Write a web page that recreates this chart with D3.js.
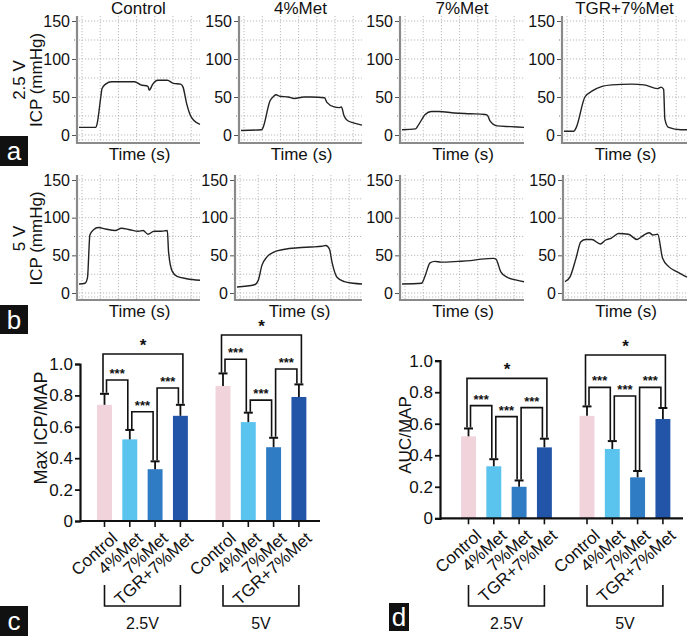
<!DOCTYPE html>
<html><head><meta charset="utf-8">
<script src="https://cdn.jsdelivr.net/npm/d3@7"></script>
<style>
body{margin:0;background:#fff;}
svg text{font-family:"Liberation Sans",Arial,sans-serif;fill:#111;}
</style></head>
<body>
<svg id="fig" width="688" height="636"></svg>
<script>
// ---------- DATA ----------
const traceTitles = ["Control", "4%Met", "7%Met", "TGR+7%Met"];
const rowLabels = ["2.5 V", "5 V"];
const icpTicks = [0, 50, 100, 150];
// traces: [time %, ICP mmHg]
const trace25Control = [[0,10],[14,10],[15,15],[18,50],[19,61],[22,67],[27,70],[35,70],[46,70],[51,66],[57,64],[58,59],[61,67],[65,72],[73,72],[78,68],[84,67],[86,63],[89,41],[92,26],[95,19],[100,14]];
const trace25Met4 = [[0,6],[17,7],[18,9],[24,45],[27,51],[29,53],[32,51],[39,50],[44,48],[52,50],[58,50],[69,49],[71,43],[77,37],[81,36],[83,37],[85,26],[88,19],[93,16],[100,13]];
const trace25Met7 = [[0,7],[11,8],[13,12],[19,27],[24,31],[30,31],[43,29],[56,28],[68,27],[70,26],[72,19],[78,12],[89,11],[100,10]];
const trace25TGR = [[0,5],[8,5],[10,10],[17,50],[23,58],[31,64],[39,66],[55,67],[65,66],[76,61],[79,63],[81,60],[82,21],[85,10],[95,7],[100,7]];
const trace5Control = [[0,12],[5,13],[7,20],[9,77],[12,84],[16,87],[22,85],[30,83],[35,86],[42,84],[49,82],[53,83],[57,78],[62,82],[68,82],[73,83],[74,55],[77,29],[81,22],[89,19],[100,17]];
const trace5Met4 = [[0,8],[14,11],[17,17],[20,37],[24,48],[29,54],[38,58],[49,60],[59,61],[68,62],[71,63],[74,58],[76,41],[80,21],[86,15],[93,13],[100,12]];
const trace5Met7 = [[0,12],[16,13],[19,23],[23,40],[27,42],[32,41],[46,42],[56,43],[65,45],[75,46],[77,45],[81,28],[86,21],[94,17],[100,15]];
const trace5TGR = [[0,15],[4,21],[9,46],[13,68],[17,71],[22,71],[29,65],[33,70],[38,73],[44,79],[52,78],[59,71],[62,74],[69,80],[72,77],[76,78],[80,46],[85,35],[92,28],[100,21]];

const groups = ["2.5V", "5V"];
const categories = ["Control", "4%Met", "7%Met", "TGR+7%Met"];
const barColors = ["#f1d3dc", "#5ac3ee", "#2f7cc4", "#2255a8"];
const ratioTicks = [0, 0.2, 0.4, 0.6, 0.8, 1.0];
const maxIcpMean = [[0.74, 0.52, 0.33, 0.67], [0.86, 0.63, 0.47, 0.79]];
const maxIcpSD   = [[0.07, 0.06, 0.05, 0.07], [0.08, 0.06, 0.06, 0.08]];
const aucMean = [[0.52, 0.33, 0.20, 0.45], [0.65, 0.44, 0.26, 0.63]];
const aucSD   = [[0.05, 0.045, 0.04, 0.055], [0.06, 0.05, 0.04, 0.07]];
// significance brackets: [from idx, to idx, height, label]
const maxIcpSig = [
  [[0,3,1.064,"*"],[0,1,0.898,"***"],[1,2,0.696,"***"],[2,3,0.847,"***"]],
  [[0,3,1.185,"*"],[0,1,1.03,"***"],[1,2,0.77,"***"],[2,3,0.968,"***"]]
];
const aucSig = [
  [[0,3,0.888,"*"],[0,1,0.715,"***"],[1,2,0.645,"***"],[2,3,0.702,"***"]],
  [[0,3,1.036,"*"],[0,1,0.831,"***"],[1,2,0.776,"***"],[2,3,0.831,"***"]]
];

// ---------- DRAW ----------
const svg = d3.select("#fig");
const font = '"Liberation Sans",Arial,sans-serif';

const traces = [[trace25Control, trace25Met4, trace25Met7, trace25TGR],[trace5Control, trace5Met4, trace5Met7, trace5TGR]];
const rowGeom = [
  {axX:[77,239,400,562], right:[200,362,524,687], y0:135, y150:21, top:16, bottom:143, timeY:160},
  {axX:[77,235,400,563], right:[200,362,524,687], y0:293, y150:180, top:175, bottom:300, timeY:317}
];

function labelBox(x, y, w, h, t){
  svg.append("rect").attr("x",x).attr("y",y).attr("width",w).attr("height",h).attr("fill","#111");
  svg.append("text").attr("x",x+w/2).attr("y",y+h/2).attr("dy","0.36em").attr("text-anchor","middle")
    .style("fill","#fff").attr("font-size",26).text(t);
}

rowGeom.forEach((g, r) => {
  traces[r].forEach((data, c) => {
    const x0 = g.axX[c], x1 = g.right[c];
    const x = d3.scaleLinear().domain([0,100]).range([x0+2, x1]);
    const y = d3.scaleLinear().domain([0,150]).range([g.y0, g.y150]);
    const gp = svg.append("g");
    // grid
    const hv = d3.range(0, 151, 25);
    gp.selectAll(".hg").data(hv).join("line")
      .attr("x1", x0+2).attr("x2", x1).attr("y1", d=>y(d)).attr("y2", d=>y(d))
      .attr("stroke","#aaa").attr("stroke-width",0.8).attr("stroke-dasharray","1.2,1.8");
    gp.append("line").attr("x1",x0+2).attr("x2",x1).attr("y1",g.bottom-3).attr("y2",g.bottom-3)
      .attr("stroke","#aaa").attr("stroke-width",0.8).attr("stroke-dasharray","1.2,1.8");
    const vstep = 18.2;
    const vv = d3.range(0, 7).map(k => x0 + 5 + k*vstep).filter(v => v < x1-1);
    gp.selectAll(".vg").data(vv).join("line")
      .attr("x1", d=>d).attr("x2", d=>d).attr("y1", g.top).attr("y2", g.bottom-1)
      .attr("stroke","#aaa").attr("stroke-width",0.8).attr("stroke-dasharray","1.2,1.8");
    // axes lines
    gp.append("line").attr("x1",x0).attr("x2",x0).attr("y1",g.top).attr("y2",g.bottom+1)
      .attr("stroke","#8a8a8a").attr("stroke-width",2.2);
    gp.append("line").attr("x1",x0).attr("x2",x1).attr("y1",g.bottom).attr("y2",g.bottom)
      .attr("stroke","#8a8a8a").attr("stroke-width",2.2);
    // y axis ticks
    const ax = d3.axisLeft(y).tickValues(icpTicks).tickSize(4).tickPadding(2).tickFormat(d3.format("d"));
    const ag = gp.append("g").attr("transform",`translate(${x0-1},0)`).call(ax);
    ag.select(".domain").remove();
    ag.selectAll("line").attr("stroke","#555").attr("stroke-width",1);
    ag.selectAll("text").attr("font-size",16).attr("font-family",font).style("fill","#111");
    gp.selectAll(".mt").data([25,75,125]).join("line")
      .attr("x1",x0-3).attr("x2",x0-2).attr("y1",d=>y(d)).attr("y2",d=>y(d)).attr("stroke","#777");
    // trace
    const line = d3.line().x(d=>x(d[0])).y(d=>y(d[1])).curve(d3.curveMonotoneX);
    gp.append("path").datum(data).attr("d", line).attr("fill","none")
      .attr("stroke","#222").attr("stroke-width",1.4);
    // Time label
    gp.append("text").attr("x",(x0+x1)/2+1).attr("y",g.timeY).attr("text-anchor","middle")
      .attr("font-size",17).text("Time (s)");
    if (r === 0) {
      gp.append("text").attr("x",(x0+x1)/2).attr("y",14).attr("text-anchor","middle")
        .attr("font-size",17).text(traceTitles[c]);
    }
  });
  const cy = (g.y0 + g.y150)/2 + 2;
  svg.append("text").attr("transform",`translate(25,${cy}) rotate(-90)`).attr("text-anchor","middle")
    .attr("font-size",17).text(rowLabels[r]);
  svg.append("text").attr("transform",`translate(42,${cy}) rotate(-90)`).attr("text-anchor","middle")
    .attr("font-size",17).text("ICP (mmHg)");
});
labelBox(0,136,28,30,"a");
labelBox(0,305,28,29,"b");

// ---------- BAR PANELS ----------
function barPanel(opt){
  const {axisX, axisRight, yTop, yZero, means, sds, sig, ylabel, ylabelX, ylabelY, ylabelSize, groupRange} = opt;
  const y = d3.scaleLinear().domain([0,1]).range([yZero, yTop]);
  const outer = d3.scaleBand().domain(groups).range(groupRange).paddingInner(0.146).paddingOuter(0);
  const inner = d3.scaleBand().domain(categories).range([0, outer.bandwidth()]).paddingInner(0.41).paddingOuter(0.205);
  const cx = (gi, ci) => outer(groups[gi]) + inner(categories[ci]) + inner.bandwidth()/2;
  const gp = svg.append("g");
  // bars
  groups.forEach((gname, gi) => {
    categories.forEach((cat, ci) => {
      gp.append("rect").attr("x", outer(gname)+inner(cat)).attr("width", inner.bandwidth())
        .attr("y", y(means[gi][ci])).attr("height", yZero - y(means[gi][ci]))
        .attr("fill", barColors[ci]);
      const xc = cx(gi, ci), yt = y(means[gi][ci] + sds[gi][ci]);
      gp.append("line").attr("x1",xc).attr("x2",xc).attr("y1",y(means[gi][ci])).attr("y2",yt)
        .attr("stroke","#111").attr("stroke-width",1.8);
      gp.append("line").attr("x1",xc-4.5).attr("x2",xc+4.5).attr("y1",yt).attr("y2",yt)
        .attr("stroke","#111").attr("stroke-width",2);
    });
    // significance
    sig[gi].forEach(([a, b, h, lab]) => {
      const wide = (b - a) === 3;
      const xa = cx(gi, a) + (wide ? -1.5 : 2);
      const xb = cx(gi, b) + (wide ? 2.5 : -2);
      const ya = y(means[gi][a] + sds[gi][a]) - 1;
      const yb = y(means[gi][b] + sds[gi][b]) - 1;
      const yh = y(h);
      gp.append("path").attr("d", `M${xa},${ya}V${yh}H${xb}V${yb}`)
        .attr("fill","none").attr("stroke","#111").attr("stroke-width",1.6);
      gp.append("text").attr("x",(xa+xb)/2).attr("y", yh - (wide ? 3 : 2))
        .attr("text-anchor","middle").attr("font-size", wide ? 17 : 13)
        .attr("font-weight", "bold").text(lab);
    });
    // group bracket
    const gx0 = cx(gi,0), gx1 = cx(gi,3);
    gp.append("path").attr("d", `M${gx0},${585}V${606}H${gx1}V${585}`)
      .attr("fill","none").attr("stroke","#111").attr("stroke-width",1.6);
    gp.append("text").attr("x",(gx0+gx1)/2).attr("y",629).attr("text-anchor","middle")
      .attr("font-size",16).text(gname);
    // x labels
    categories.forEach((cat, ci) => {
      const xc = cx(gi, ci);
      gp.append("line").attr("x1",xc).attr("x2",xc).attr("y1",yZero).attr("y2",yZero+6)
        .attr("stroke","#111").attr("stroke-width",1.6);
      gp.append("text").attr("transform",`translate(${xc+6},${yZero+10}) rotate(-42)`)
        .attr("text-anchor","end").attr("dy","0.7em").attr("font-size",17).text(cat);
    });
  });
  // axes
  gp.append("line").attr("x1",axisX).attr("x2",axisRight).attr("y1",yZero).attr("y2",yZero)
    .attr("stroke","#111").attr("stroke-width",2.2);
  const ax = d3.axisLeft(y).tickValues(ratioTicks).tickSize(5).tickPadding(2)
    .tickFormat(d => d === 0 ? "0" : d3.format(".1f")(d));
  const ag = gp.append("g").attr("transform",`translate(${axisX},0)`).call(ax);
  ag.select(".domain").attr("stroke","#111").attr("stroke-width",2.2);
  ag.selectAll("line").attr("stroke","#111").attr("stroke-width",1.8);
  ag.selectAll("text").attr("font-size",17).attr("font-family",font).style("fill","#111");
  svg.append("text").attr("transform",`translate(${ylabelX},${ylabelY}) rotate(-90)`)
    .attr("text-anchor","middle").attr("font-size",ylabelSize).text(ylabel);
}

barPanel({axisX:80, axisRight:320, yTop:364, yZero:521, means:maxIcpMean, sds:maxIcpSD, sig:maxIcpSig,
  ylabel:"Max ICP/MAP", ylabelX:47, ylabelY:428, ylabelSize:18, groupRange:[91.85, 311.55]});
barPanel({axisX:440, axisRight:683, yTop:360.7, yZero:518.3, means:aucMean, sds:aucSD, sig:aucSig,
  ylabel:"AUC/MAP", ylabelX:411, ylabelY:435, ylabelSize:17, groupRange:[455.85, 675.55]});
labelBox(0,606,28,30,"c");
labelBox(389,603,20,28,"d");
</script>
</body></html>
